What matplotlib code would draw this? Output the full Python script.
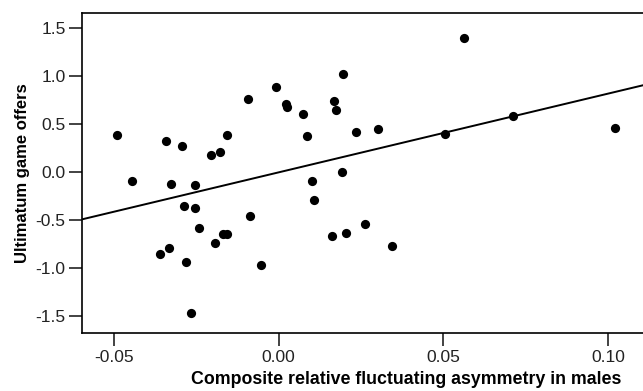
import matplotlib
matplotlib.use("Agg")
import matplotlib.pyplot as plt
import numpy as np

plt.rcParams["font.family"] = ["Liberation Sans", "DejaVu Sans"]

# composite relative FA (x) vs ultimatum game offers (y)
fa = [-0.0491, -0.0342, -0.0292, -0.0204, -0.0179, -0.0157, -0.0092, -0.0007,
      0.0023, 0.0025, 0.0074, 0.0087, 0.0167, 0.0175, 0.0195, 0.0235,
      0.0301, 0.0561, 0.0505, 0.0711, 0.1020, 0.0193,
      -0.0446, -0.0326, -0.0255, -0.0288, -0.0255, -0.0242, -0.0359, -0.0333,
      -0.0280, -0.0265, -0.0192, -0.0169, -0.0157, -0.0087, -0.0055,
      0.0101, 0.0106, 0.0163, 0.0203, 0.0261, 0.0345]
offers = [0.39, 0.33, 0.27, 0.18, 0.21, 0.39, 0.76, 0.885,
          0.71, 0.68, 0.61, 0.38, 0.745, 0.65, 1.02, 0.42,
          0.45, 1.40, 0.40, 0.59, 0.465, 0.006,
          -0.087, -0.125, -0.13, -0.35, -0.37, -0.58, -0.85, -0.79,
          -0.935, -1.46, -0.74, -0.646, -0.646, -0.455, -0.96,
          -0.087, -0.29, -0.66, -0.63, -0.54, -0.77]

# fitted line
slope = 8.2
intercept = 0.0

xticks = [-0.05, 0.00, 0.05, 0.10]
yticks = [-1.5, -1.0, -0.5, 0.0, 0.5, 1.0, 1.5]

fig = plt.figure(figsize=(6.43, 3.91), dpi=100)
# the original is cropped on the right, so the axes run past the figure edge
ax = fig.add_axes([0.127, 0.149, 1.008, 0.818])

ax.scatter(fa, offers, s=44, color="black", zorder=3, linewidths=0)

xlim = (-0.0598, 0.1369)
xs = np.array(xlim)
ax.plot(xs, intercept + slope * xs, color="black", lw=1.4)

ax.set_xlim(*xlim)
ax.set_ylim(-1.67, 1.66)
ax.set_xticks(xticks)
ax.set_xticklabels([f"{v:.2f}" for v in xticks])
ax.set_yticks(yticks)
ax.set_yticklabels([f"{v:.1f}" for v in yticks])

for sp in ax.spines.values():
    sp.set_linewidth(1.2)
ax.tick_params(direction="out", length=9.5, width=1.2, labelsize=12.5, pad=2,
               colors="#222222")
ax.tick_params(axis="x", pad=3)

ax.set_xlabel("Composite relative fluctuating asymmetry in males",
              fontsize=12.8, fontweight="bold", labelpad=4.5)
ax.set_ylabel("Ultimatum game offers", fontsize=12, fontweight="bold", labelpad=4)

fig.savefig("out.png", dpi=100)
